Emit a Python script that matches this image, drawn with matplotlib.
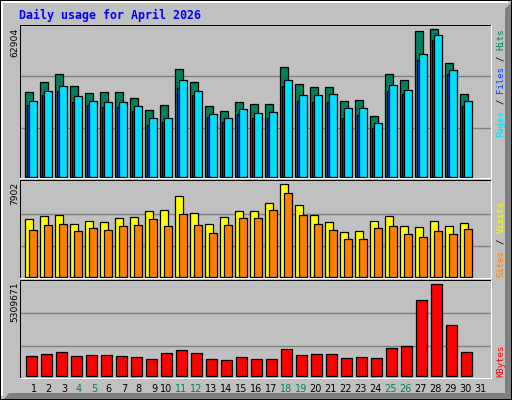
import matplotlib
matplotlib.use('Agg')
import matplotlib.pyplot as plt
from matplotlib.patches import Rectangle, Polygon
import numpy as np

# daily usage data, April 2026
days = list(range(1, 32))
hits = [36021, 40287, 43712, 38576, 35594, 36025, 36018, 33457, 28336, 30478,
        45841, 40293, 30049, 27915, 31752, 30897, 30906, 46688, 39434, 38158,
        38151, 32185, 32604, 25777, 43709, 41146, 62054, 62904, 48396, 35171, 0]
files = [30471, 34745, 36452, 31750, 30468, 29617, 29628, 27909, 21941, 23214,
         37733, 34739, 25355, 23221, 26628, 24920, 24931, 38587, 32176, 31759,
         31748, 24929, 26203, 20661, 36446, 35172, 49684, 58211, 43700, 30052, 0]
pages = [32178, 36453, 38580, 34319, 32186, 31751, 31757, 30044, 24928, 24921,
         41147, 36446, 26635, 24923, 28770, 27055, 27490, 41141, 34738, 34746,
         35165, 29197, 29189, 22794, 39007, 36880, 52236, 60352, 45408, 32185, 0]
visits = [4906, 5168, 5249, 4484, 4735, 4655, 4991, 5083, 5590, 5682,
          6873, 5425, 4478, 5077, 5596, 5589, 6280, 7902, 6103, 5254,
          4649, 3800, 3880, 4741, 5162, 4313, 4222, 4736, 4307, 4570, 0]
sites = [3971, 4393, 4484, 3880, 4142, 3965, 4313, 4399, 4906, 4307,
         5339, 4392, 3715, 4401, 4991, 4997, 5676, 7135, 5248, 4478,
         3971, 3195, 3201, 4136, 4314, 3623, 3373, 3886, 3629, 4051, 0]
kbytes = [1144387, 1243512, 1359024, 1126871, 1185340, 1184912, 1127263, 1068755, 952481, 1301620,
          1475318, 1300947, 953102, 894556, 1069213, 952867, 952390, 1533872, 1185461, 1242905,
          1243388, 1010629, 1069034, 1010947, 1591502, 1708213, 4380455, 5309671, 2927604, 1359185, 0]
weekend = [4, 5, 11, 12, 18, 19, 25, 26]

BG = '#c0c0c0'
C_HITS = '#00805c'
C_FILES = '#0040ff'
C_PAGES = '#00e0ff'
C_VISITS = '#ffff00'
C_SITES = '#ff8000'
C_KB = '#ff0000'
GRID = '#808080'

W, H = 512, 400
fig = plt.figure(figsize=(W / 100, H / 100), dpi=100, facecolor=BG)


def px_axes(l, t, r, b):
    return fig.add_axes([l / W, 1 - b / H, (r - l) / W, (b - t) / H], zorder=1)


def setup(ax, top, bottom, zero, peak, ymax):
    span = zero - peak
    ax.set_ylim(-(bottom - zero) / span * ymax, (zero - top) / span * ymax)
    ax.set_xlim(0, 471 / 15)
    ax.set_facecolor(BG)
    for s in ax.spines.values():
        s.set_visible(False)
    ax.set_xticks([])
    ax.set_yticks([])
    for f in (0.33, 0.683):
        ax.axhline(f * ymax, color=GRID, lw=1.0, zorder=0)


x0 = np.arange(len(days), dtype=float)
bw = 8 / 15
kw = dict(align='edge', edgecolor='black', linewidth=0.9)


def bars(ax, off, vals, width, color, z):
    vals = np.array(vals)
    m = vals > 0
    ax.bar(x0[m] + off / 15, vals[m], width=width, color=color, zorder=z, **kw)


# top panel: hits / files / pages
ax1 = px_axes(20, 25, 491, 178)
setup(ax1, 25, 178, 176.7, 29.3, max(hits))
bars(ax1, 5, hits, bw, C_HITS, 2)
bars(ax1, 6.7, files, bw, C_FILES, 3)
bars(ax1, 9, pages, bw, C_PAGES, 4)

# middle panel: visits / sites
ax2 = px_axes(20, 180, 491, 278)
setup(ax2, 180, 278, 276.7, 184.3, max(visits))
bars(ax2, 5, visits, bw, C_VISITS, 2)
bars(ax2, 9, sites, bw, C_SITES, 3)

# bottom panel: kbytes
ax3 = px_axes(20, 280, 491, 378)
setup(ax3, 280, 378, 375.7, 284.3, max(kbytes))
bars(ax3, 6, kbytes, 10.7 / 15, C_KB, 2)
ax3.set_xticks(x0 + 17 / 15, [str(d) for d in days])
ax3.tick_params(axis='x', length=0, pad=4, labelsize=7)
for d, lbl in zip(days, ax3.get_xticklabels()):
    lbl.set_ha('right')
    lbl.set_color(C_HITS if d in weekend else 'black')

# overlay for frame and texts, in pixel coordinates
ov = fig.add_axes([0, 0, 1, 1], zorder=5)
ov.set_xlim(0, W)
ov.set_ylim(H, 0)
ov.axis('off')

ov.add_patch(Polygon([(3, 400), (9, 393), (505, 393), (505, 9), (511, 3), (511, 400)],
                     closed=True, color='#808080', lw=0))
ov.add_patch(Rectangle((1, 1), 507, 1.5, color='white', lw=0))
ov.add_patch(Rectangle((1, 1), 1.5, 395, color='white', lw=0))
for r in [(0, 0, 512, 1), (0, 0, 1, 400), (511, 0, 1, 400), (0, 399, 512, 1)]:
    ov.add_patch(Rectangle((r[0], r[1]), r[2], r[3], color='black', lw=0))

for t, b in [(25, 179), (180, 279), (280, 379)]:
    ov.add_patch(Rectangle((20, t), 471, 1.2, color='black', lw=0))
    ov.add_patch(Rectangle((20, t), 1.2, b - t, color='black', lw=0))
    ov.add_patch(Rectangle((20, b - 1.2), 472, 1.2, color='white', lw=0))
    ov.add_patch(Rectangle((490.8, t), 1.2, b - t, color='white', lw=0))

ov.text(19, 19, 'Daily usage for April 2026', color='#0000ff', family='DejaVu Sans Mono',
        weight='bold', size=8.4, va='baseline')

for y, v in [(28, max(hits)), (182, max(visits)), (282, max(kbytes))]:
    ov.text(15, y, str(v), rotation=90, rotation_mode='anchor', ha='right', va='center',
            size=6.6, color='black')

step = 5.44
right_labels = [
    (137, [('Pages', 0, C_PAGES), ('/', 6, 'black'), ('Files', 8, C_FILES),
           ('/', 14, 'black'), ('Hits', 16, C_HITS)]),
    (277, [('Sites', 0, C_SITES), ('/', 6, 'black'), ('Visits', 8, C_VISITS)]),
    (377, [('KBytes', 0, C_KB)]),
]
for start, pieces in right_labels:
    for txt, c, col in pieces:
        ov.text(501, start - c * step, txt, rotation=90, rotation_mode='anchor',
                ha='left', va='center', family='DejaVu Sans Mono', size=6.5, color=col)

fig.savefig('out.png', dpi=100, facecolor=BG)
